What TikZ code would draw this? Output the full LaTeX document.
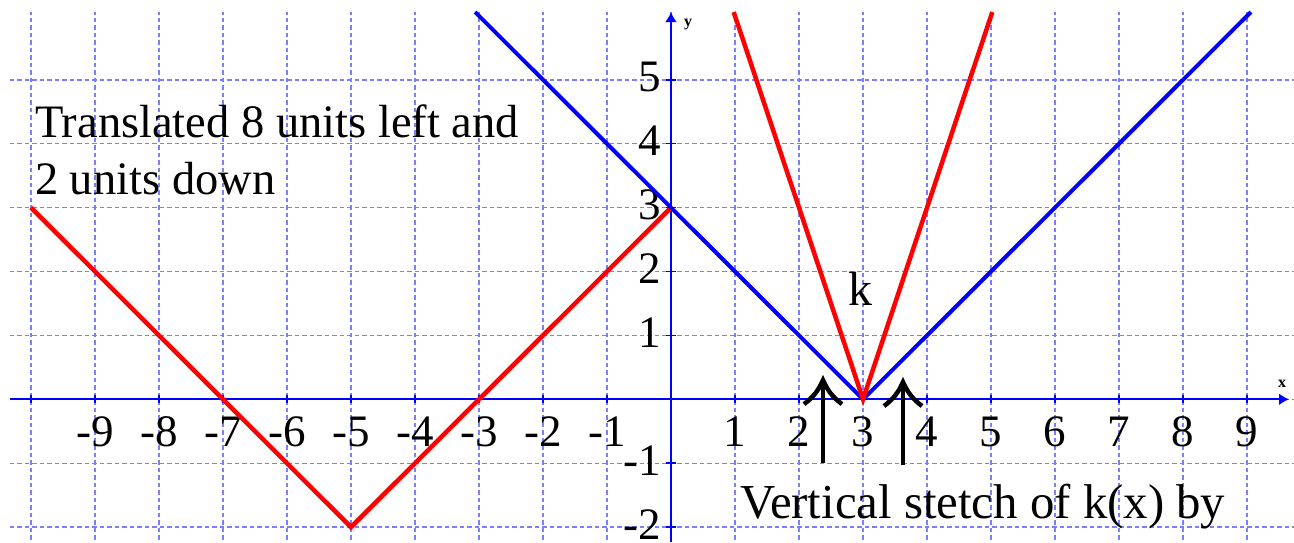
\documentclass[tikz,border=0pt]{standalone}
\usepackage{fontspec}
\setmainfont{Liberation Serif}
\usetikzlibrary{arrows.meta}
\definecolor{gridblue}{RGB}{125,125,255}
\begin{document}
\begin{tikzpicture}[x=64pt,y=63.9pt,
  gridline/.style={draw=gridblue, line width=1.4pt, dash pattern=on 4.5pt off 3pt},
  axisline/.style={draw=blue, line width=2pt},
  tickmark/.style={draw=blue, line width=1.5pt},
  xlab/.style={font=\fontsize{45}{54}\selectfont, anchor=base, inner sep=0pt},
  ylab/.style={font=\fontsize{45}{54}\selectfont, anchor=east, inner sep=0pt},
  graphred/.style={draw=red, line width=4.5pt, line join=miter},
  graphblue/.style={draw=blue, line width=4pt, line join=miter},
  bigshaft/.style={draw=black, line width=4.5pt},
  bighead/.style={draw=black, line width=4.5pt, line join=miter},
  bodytext/.style={font=\fontsize{46.5}{57}\selectfont, inner sep=0pt, anchor=base west},
  axislab/.style={font=\fontsize{16}{18}\selectfont\bfseries, inner sep=0pt}
]
\useasboundingbox (-10.484,-2.233) rectangle (9.734,6.249);
% grid
\foreach \i in {-10,...,9} \draw[gridline] (\i,-2.2) -- (\i,6.06);
\foreach \j in {-2,...,5} \draw[gridline] (-10.33,\j) -- (9.734,\j);
% axes
\coordinate (xs) at (-10.33,0);
\coordinate (xe) at (9.656,0);
\coordinate (ys) at (0,-2.233);
\coordinate (ye) at (0,6.06);
\draw[axisline,-{Latex[length=10pt,width=12pt]}] (xs) -- (xe);
\draw[axisline,-{Latex[length=10pt,width=12pt]}] (ys) -- (ye);
\foreach \i in {-10,...,9} \draw[tickmark] (\i,-0.065) -- (\i,0.065);
\foreach \j in {-2,...,5} \draw[tickmark] (-0.08,\j) -- (0.08,\j);
\node[axislab] (xname) at (9.547,0.239) {x};
\node[axislab] (yname) at (0.266,5.858) {y};
% tick labels
\foreach \i [count=\k] in {-9,-8,-7,-6,-5,-4,-3,-2,-1,1,2,3,4,5,6,7,8,9}
  \node[xlab] (xl\k) at (\i,-0.745) {\i};
\foreach \j [count=\k] in {-2,-1,1,2,3,4,5}
  \node[ylab] (yl\k) at (-0.156,\j+0.047) {\j};
% graphs
\draw[graphred] (-10,3) -- (-5,-2) -- (0,3);
\draw[graphblue] (-3.06,6.06) -- (3,0) -- (9.06,6.06);
\draw[graphred] (0.98,6.06) -- (3,0) -- (5.02,6.06);
% arrows
\coordinate (a1) at (2.375,-1.0);
\coordinate (a1t) at (2.375,0.30);
\coordinate (a2) at (3.625,-1.03);
\coordinate (a2t) at (3.625,0.27);
\foreach \a/\t in {a1/a1t, a2/a2t}{
  \draw[bigshaft] (\a) -- ([yshift=-3pt]\t);
  \draw[bighead] ([xshift=-19pt,yshift=-24pt]\t) to[bend right=14] (\t) to[bend right=14] ([xshift=19pt,yshift=-24pt]\t);
}
% texts
\node[bodytext] (t1) at (-9.938,4.092) {Translated 8 units left and};
\node[bodytext] (t2) at (-9.938,3.200) {2 units down};
\node[bodytext, font=\fontsize{48.8}{58}\selectfont] (t3) at (1.078,-1.867) {Vertical stetch of k(x) by};
\node[font=\fontsize{48}{58}\selectfont, anchor=base, inner sep=0pt] (klab) at (2.961,1.476) {k};
\end{tikzpicture}
\end{document}
